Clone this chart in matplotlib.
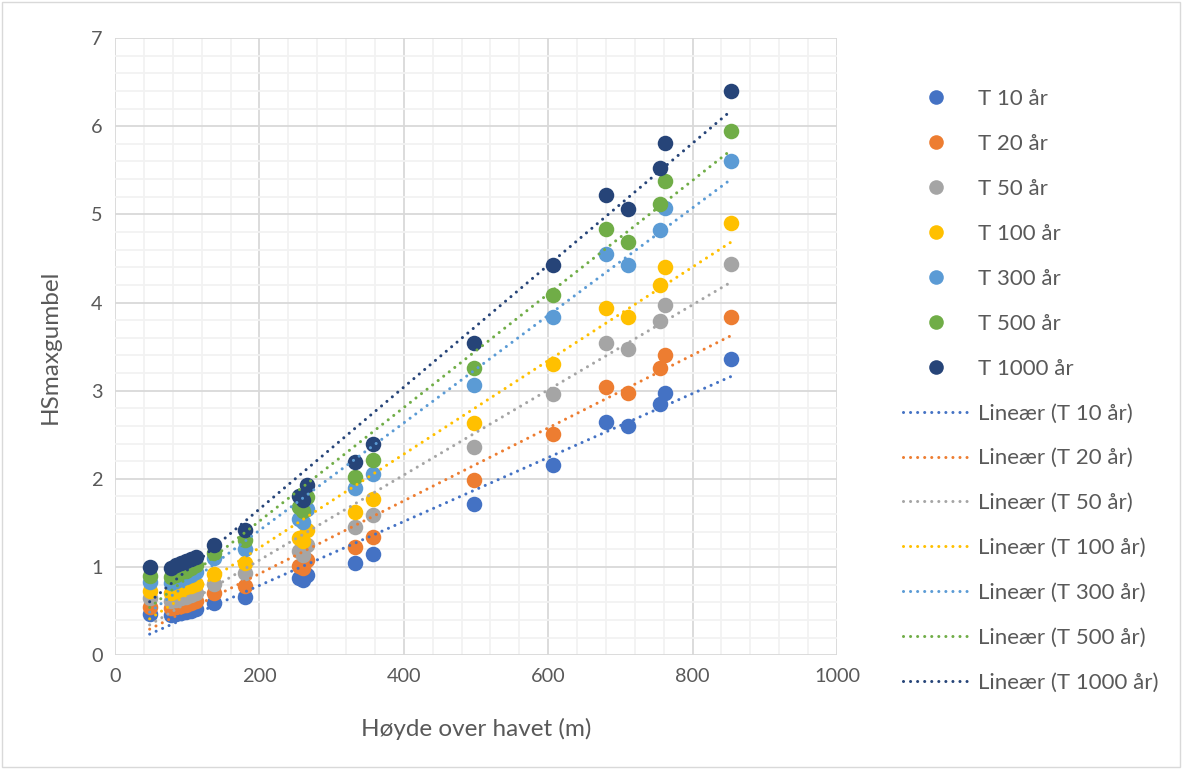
import numpy as np
import matplotlib
matplotlib.use("Agg")
import matplotlib.pyplot as plt
from matplotlib.lines import Line2D
from matplotlib.patches import Rectangle
from matplotlib.ticker import MultipleLocator

plt.rcParams['font.family'] = ['Lato', 'DejaVu Sans']

hoyde = [48, 78, 85, 92, 99, 105, 112, 137, 180, 255, 261, 266, 333, 358,
         497, 606, 680, 711, 755, 762, 853]

series_names = ["T 10 år", "T 20 år", "T 50 år", "T 100 år", "T 300 år", "T 500 år", "T 1000 år"]

t10 = [0.47, 0.46, 0.47, 0.48, 0.49, 0.50, 0.52, 0.59, 0.66, 0.87, 0.85, 0.91, 1.04, 1.15, 1.71, 2.16, 2.64, 2.60, 2.85, 2.97, 3.36]
t20 = [0.55, 0.54, 0.55, 0.56, 0.57, 0.59, 0.61, 0.70, 0.78, 1.01, 0.99, 1.08, 1.23, 1.34, 1.99, 2.51, 3.04, 2.97, 3.26, 3.40, 3.83]
t50 = [0.65, 0.62, 0.63, 0.65, 0.66, 0.68, 0.70, 0.81, 0.93, 1.18, 1.14, 1.25, 1.45, 1.59, 2.36, 2.96, 3.54, 3.47, 3.79, 3.97, 4.44]
t100 = [0.73, 0.71, 0.73, 0.75, 0.77, 0.79, 0.81, 0.92, 1.04, 1.33, 1.30, 1.42, 1.62, 1.77, 2.63, 3.30, 3.94, 3.84, 4.20, 4.40, 4.90]
t300 = [0.83, 0.82, 0.84, 0.86, 0.89, 0.91, 0.94, 1.10, 1.21, 1.55, 1.51, 1.66, 1.90, 2.06, 3.07, 3.83, 4.55, 4.42, 4.82, 5.07, 5.61]
t500 = [0.90, 0.89, 0.91, 0.94, 0.96, 0.99, 1.02, 1.16, 1.31, 1.68, 1.63, 1.79, 2.02, 2.21, 3.26, 4.08, 4.83, 4.69, 5.12, 5.38, 5.95]
t1000 = [1.00, 0.99, 1.02, 1.05, 1.07, 1.09, 1.11, 1.25, 1.42, 1.81, 1.76, 1.93, 2.19, 2.39, 3.54, 4.42, 5.22, 5.06, 5.52, 5.81, 6.40]

all_series = [t10, t20, t50, t100, t300, t500, t1000]
colors = ["#4472C4", "#ED7D31", "#A5A5A5", "#FFC000", "#5B9BD5", "#70AD47", "#264478"]

fig = plt.figure(figsize=(11.82, 7.69), dpi=100)
fig.patches.append(Rectangle((0.002, 0.002), 0.996, 0.996, transform=fig.transFigure,
                             fill=False, edgecolor="#D9D9D9", linewidth=1.0))
ax = fig.add_axes([0.0973, 0.148, 0.6108, 0.8026])

x = np.array(hoyde, dtype=float)
dot_style = dict(linestyle=(0, (0.01, 2.3)), linewidth=2.2, dash_capstyle='round')
for name, vals, c in zip(series_names, all_series, colors):
    y = np.array(vals)
    ax.scatter(x, y, s=125, color=c, zorder=3, linewidths=0)
for name, vals, c in zip(series_names, all_series, colors):
    y = np.array(vals)
    k, m = np.polyfit(x, y, 1)
    xx = np.array([x.min(), x.max()])
    ax.plot(xx, k * xx + m, color=c, zorder=4, **dot_style)

ax.set_xlim(0, 1000)
ax.set_ylim(0, 7)
ax.xaxis.set_major_locator(MultipleLocator(200))
ax.xaxis.set_minor_locator(MultipleLocator(40))
ax.yaxis.set_major_locator(MultipleLocator(1))
ax.yaxis.set_minor_locator(MultipleLocator(0.2))
ax.grid(which='major', color="#D9D9D9", linewidth=1.3, zorder=0)
ax.grid(which='minor', color="#F2F2F2", linewidth=1.3, zorder=0)
ax.set_axisbelow(True)
for s in ax.spines.values():
    s.set_visible(False)
ax.tick_params(which='both', length=0, labelsize=14.3, labelcolor="#595959", pad=9)
ax.set_xlabel("Høyde over havet (m)", fontsize=17.5, color="#595959", labelpad=24)
ax.set_ylabel("HSmaxgumbel", fontsize=17.5, color="#595959", labelpad=22)

handles = []
labels = []
for name, c in zip(series_names, colors):
    handles.append(Line2D([], [], marker='o', linestyle='none', markersize=10.5,
                          markerfacecolor=c, markeredgewidth=0))
    labels.append(name)
for name, c in zip(series_names, colors):
    handles.append(Line2D([], [], color=c, **dot_style))
    labels.append("Lineær (" + name + ")")

leg = fig.legend(handles, labels, loc='upper left', bbox_to_anchor=(0.764, 0.884),
                 frameon=False, fontsize=16, labelcolor="#595959",
                 handlelength=3.0, handletextpad=0.36, labelspacing=1.12,
                 borderaxespad=0, borderpad=0)

fig.savefig("out.png", dpi=100)
